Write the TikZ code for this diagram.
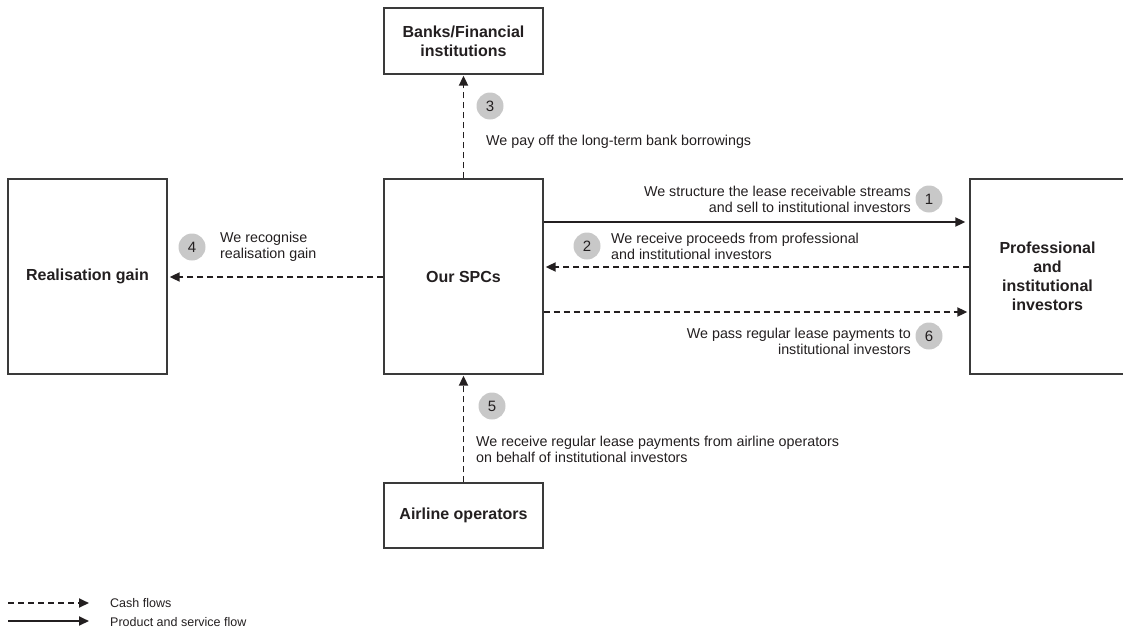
\documentclass[tikz,border=0pt]{standalone}
\usepackage{fontspec}
\setmainfont{Liberation Sans}
\usetikzlibrary{arrows.meta}
\definecolor{ink}{HTML}{231F20}
\definecolor{edge}{HTML}{3A3A3A}
\definecolor{badge}{HTML}{C8C8C8}
\tikzset{
  entity/.style={draw=edge, line width=1.3pt, fill=white, inner sep=0pt,
    font=\fontsize{16}{19}\selectfont\bfseries, text=ink, align=center},
  cash/.style={draw=ink, line width=1.8pt, dash pattern=on 6pt off 4pt,
    -{Triangle[length=10pt,width=9pt]}, shorten >=1pt},
  product/.style={draw=ink, line width=1.8pt,
    -{Triangle[length=10pt,width=9pt]}, shorten >=1pt},
  badgenum/.style={circle, fill=badge, minimum size=27pt, inner sep=0pt,
    font=\fontsize{15}{15}\selectfont, text=ink},
  note/.style={font=\fontsize{14.3}{16}\selectfont, text=ink, inner sep=0pt},
  legendtext/.style={font=\fontsize{12.5}{14}\selectfont, text=ink, inner sep=0pt, anchor=west},
}
\begin{document}
\begin{tikzpicture}[x=1pt, y=-1pt]
  \useasboundingbox (0,0) rectangle (1123,629);

  % parties
  \node[entity, minimum width=159pt, minimum height=66pt] (banks) at (463.5,41) {Banks/Financial\\institutions};
  \node[entity, minimum width=159pt, minimum height=195pt] (spc) at (463.5,276.5) {Our SPCs};
  \node[entity, minimum width=159pt, minimum height=195pt] (gain) at (87.5,276.5) {Realisation gain};
  \node[entity, minimum width=155pt, minimum height=195pt] (inv) at (1047.5,276.5) {Professional\\and\\institutional\\investors};
  \node[entity, minimum width=159pt, minimum height=65pt] (air) at (463.5,515.5) {Airline operators};

  % anchor points on the box edges
  \coordinate (s1) at (spc.east |- 0,222);
  \coordinate (i1) at (inv.west |- 0,222);
  \coordinate (s2) at (spc.east |- 0,267);
  \coordinate (i2) at (inv.west |- 0,267);
  \coordinate (s6) at (spc.east |- 0,312);
  \coordinate (i6) at (inv.west |- 0,312);
  \coordinate (s4) at (spc.west |- 0,277);
  \coordinate (g4) at (gain.east |- 0,277);

  % flows
  \draw[cash] (spc.north) -- (banks.south);
  \draw[product, shorten >=4pt] (s1) -- (i1);
  \draw[cash, shorten >=2pt] (i2) -- (s2);
  \draw[cash, shorten >=2pt] (s6) -- (i6);
  \draw[cash, shorten >=2pt] (s4) -- (g4);
  \draw[cash] (air.north) -- (spc.south);

  % step badges
  \node[badgenum] (b1) at (929,199) {1};
  \node[badgenum] (b2) at (587,246) {2};
  \node[badgenum] (b3) at (490,106) {3};
  \node[badgenum] (b4) at (192,247) {4};
  \node[badgenum] (b5) at (492,406) {5};
  \node[badgenum] (b6) at (929,336) {6};

  % step descriptions
  \node[note, anchor=east, align=right] (t1) at (911,199) {We structure the lease receivable streams\\and sell to institutional investors};
  \node[note, anchor=west, align=left] (t2) at (611,246) {We receive proceeds from professional\\and institutional investors};
  \node[note, anchor=west] (t3) at (486,142) {We pay off the long-term bank borrowings};
  \node[note, anchor=west, align=left] (t4) at (220,247) {We recognise\\realisation gain};
  \node[note, anchor=west, align=left] (t5) at (476,449) {We receive regular lease payments from airline operators\\on behalf of institutional investors};
  \node[note, anchor=east, align=right] (t6) at (911,341) {We pass regular lease payments to\\institutional investors};

  % legend
  \coordinate (lc0) at (8,603);
  \coordinate (lc1) at (89,603);
  \coordinate (lp0) at (8,621);
  \coordinate (lp1) at (89,621);
  \draw[cash, shorten >=0pt] (lc0) -- (lc1);
  \draw[product, shorten >=0pt] (lp0) -- (lp1);
  \node[legendtext] (lgc) at (110,603) {Cash flows};
  \node[legendtext] (lgp) at (110,622) {Product and service flow};
\end{tikzpicture}
\end{document}
